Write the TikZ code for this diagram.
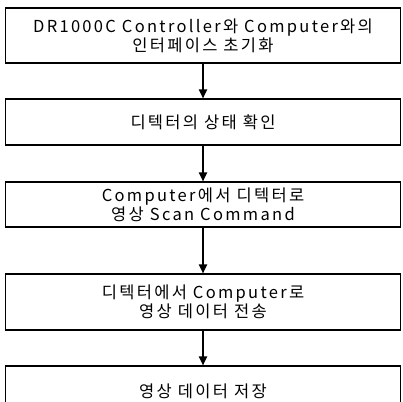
\documentclass[tikz,border=0pt]{standalone}
\usepackage{fontspec}
\setmainfont[LetterSpace=14]{Noto Sans CJK KR}
\usetikzlibrary{arrows.meta}

\begin{document}
\begin{tikzpicture}[x=1pt,y=1pt,
  stepbox/.style={draw, line width=1.1pt, minimum width=395pt, inner sep=0pt,
    align=center, font=\fontsize{16.5}{19}\selectfont},
  flow/.style={line width=1.8pt, -{Triangle[length=9pt,width=8pt]}}]

  \useasboundingbox (0,0) rectangle (403,-401);

  \node[stepbox, minimum height=55pt] (init) at (203,-35.5)
    {DR1000C Controller와 Computer와의\\인터페이스 초기화};
  \node[stepbox, minimum height=46pt] (check) at (203,-122)
    {디텍터의 상태 확인};
  \node[stepbox, minimum height=45pt] (scan) at (203,-204.5)
    {Computer에서 디텍터로\\영상 Scan Command};
  \node[stepbox, minimum height=56pt] (send) at (203,-302)
    {디텍터에서 Computer로\\영상 데이터 전송};
  \node[stepbox, minimum height=50pt] (save) at (203,-391)
    {영상 데이터 저장};

  \draw[flow] (init) -- (check);
  \draw[flow] (check) -- (scan);
  \draw[flow] (scan) -- (send);
  \draw[flow] (send) -- (save);

\end{tikzpicture}
\end{document}
